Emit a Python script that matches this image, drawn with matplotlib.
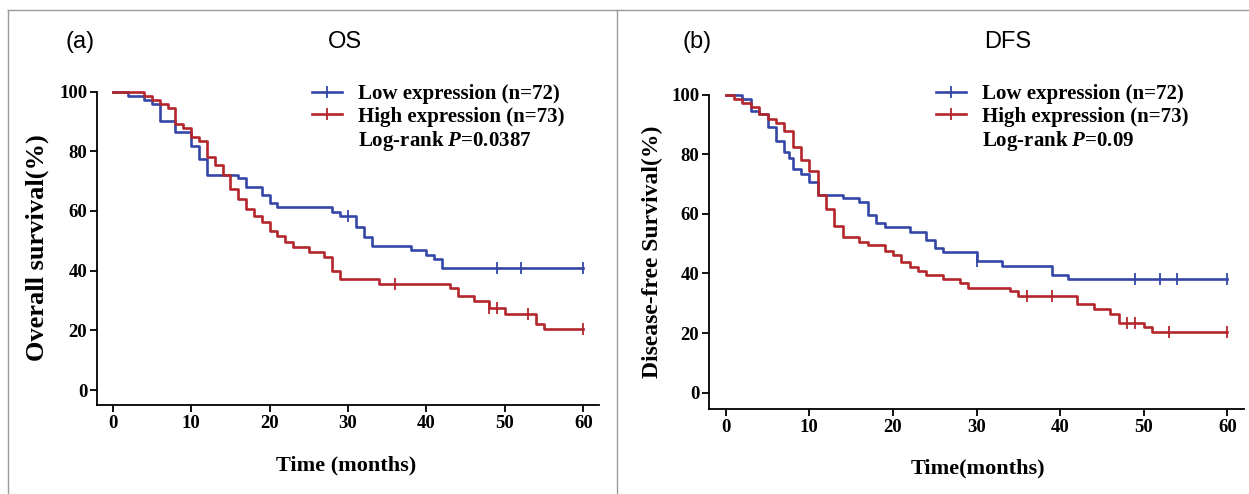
import matplotlib
matplotlib.use('Agg')
import numpy as np
import matplotlib.pyplot as plt
from matplotlib.lines import Line2D

plt.rcParams['font.family'] = 'Liberation Serif'
plt.rcParams['mathtext.fontset'] = 'custom'
plt.rcParams['mathtext.rm'] = 'Liberation Serif:bold'
plt.rcParams['mathtext.it'] = 'Liberation Serif:italic:bold'

BLUE = '#3447a8'
RED = '#b3262c'

# OS, low expression
os_low_t = [0, 2, 4, 5, 6, 8, 10, 11, 12, 16, 17, 19, 20, 21, 28, 29, 31, 32, 33, 38, 40, 41, 42, 60]
os_low_s = [100, 98.6, 97.3, 95.8, 90.2, 86.3, 81.9, 77.4, 72.0, 70.9, 68.2, 65.3, 62.6, 61.2,
            59.6, 58.4, 54.5, 51.2, 48.3, 46.9, 45.2, 43.9, 40.9, 40.9]
os_low_cens = [30, 49, 52, 60]
# OS, high expression
os_high_t = [0, 4, 5, 6, 7, 8, 9, 10, 11, 12, 13, 14, 15, 16, 17, 18, 19, 20, 21, 22, 23, 25, 27,
             28, 29, 34, 43, 44, 46, 48, 50, 54, 55, 60]
os_high_s = [100, 98.6, 97.3, 95.9, 94.5, 89.0, 87.7, 84.9, 83.6, 78.1, 75.3, 71.9, 67.3, 64.0,
             60.6, 58.4, 56.2, 53.4, 51.7, 49.7, 47.8, 46.1, 44.5, 40.0, 37.2, 35.7, 34.1, 31.6,
             29.9, 27.4, 25.5, 22.1, 20.4, 20.4]
os_high_cens = [36, 48, 49, 53, 60]

# DFS, low expression
dfs_low_t = [0, 2, 3, 4, 5, 6, 7, 7.6, 8, 9, 10, 11, 14, 16, 17, 18, 19, 22, 24, 25, 26, 30, 33,
             39, 41, 60]
dfs_low_s = [100, 98.6, 94.7, 93.6, 89.1, 84.6, 80.9, 78.8, 75.1, 73.4, 70.6, 66.2, 65.4, 63.9,
             59.8, 56.9, 55.7, 53.8, 51.3, 48.5, 47.1, 44.1, 42.6, 39.6, 38.2, 38.2]
dfs_low_cens = [30, 49, 52, 54, 60]
# DFS, high expression
dfs_high_t = [0, 1, 2, 3, 4, 5, 6, 7, 8, 9, 10, 11, 12, 13, 14, 16, 17, 19, 20, 21, 22, 23, 24,
              26, 28, 29, 34, 35, 42, 44, 46, 47, 50, 51, 60]
dfs_high_s = [100, 98.6, 97.3, 95.9, 93.6, 91.9, 90.4, 88.0, 82.4, 78.2, 74.3, 66.2, 61.7, 56.1,
              52.2, 50.5, 49.4, 47.7, 46.3, 43.8, 42.3, 41.0, 39.6, 38.2, 36.7, 35.2, 34.0, 32.6,
              29.6, 28.1, 26.4, 23.3, 22.2, 20.4, 20.4]
dfs_high_cens = [36, 39, 48, 49, 53, 60]

legend_labels = ['Low expression (n=72)', 'High expression (n=73)']
pvals = ['Log-rank $P$=0.0387', 'Log-rank $P$=0.09']
titles = ['OS', 'DFS']
tags = ['(a)', '(b)']
ylabels = ['Overall survival(%)', 'Disease-free Survival(%)']
xlabels = ['Time (months)', 'Time(months)']

W, H = 1249, 494
fig = plt.figure(figsize=(W / 100, H / 100), dpi=100)

# panel frames
gray = '#9a9a9a'
fig.add_artist(Line2D([8 / W, 8 / W], [0, 1 - 10 / H], color=gray, lw=1))
fig.add_artist(Line2D([8 / W, 1], [1 - 10 / H, 1 - 10 / H], color=gray, lw=1))
fig.add_artist(Line2D([617 / W, 617 / W], [0, 1 - 10 / H], color=gray, lw=1))


def surv_at(t, s, x):
    i = np.searchsorted(t, x, side='right') - 1
    return np.asarray(s)[i]


def km_panel(ax, curves, ylim):
    for t, s, cens, col in curves:
        ax.step(t, s, where='post', color=col, lw=1.9, clip_on=False, zorder=3)
        ax.plot(cens, surv_at(t, s, cens), linestyle='none', marker='|', ms=8, mew=1.3,
                color=col, clip_on=False, zorder=3)
    ax.set_xlim(-2, 62)
    ax.set_ylim(*ylim)
    ax.set_xticks(range(0, 61, 10))
    ax.set_yticks(range(0, 101, 20))
    for side in ['top', 'right']:
        ax.spines[side].set_visible(False)
    for side in ['left', 'bottom']:
        ax.spines[side].set_linewidth(1.3)
    ax.tick_params(direction='out', length=5, width=1.3, labelsize=13.5, pad=2)
    for lab in ax.get_xticklabels() + ax.get_yticklabels():
        lab.set_fontweight('bold')


axes_pos = [[97 / W, 1 - 405 / H, 502 / W, 313.4 / H],
            [709 / W, 1 - 409 / H, 535 / W, 314.2 / H]]
ylims = [(-5, 100), (-5.5, 100)]
data = [
    [(os_low_t, os_low_s, os_low_cens, BLUE), (os_high_t, os_high_s, os_high_cens, RED)],
    [(dfs_low_t, dfs_low_s, dfs_low_cens, BLUE), (dfs_high_t, dfs_high_s, dfs_high_cens, RED)],
]
leg_anchor = [(312, 84), (936, 84)]
tag_x = [80, 697]
title_x = [345, 1008]
ylab_pos = [(37, 248), (652, 252)]
ylab_size = [19, 17]
xlab_pos = [(346, 465), (978, 468)]

for k in range(2):
    ax = fig.add_axes(axes_pos[k])
    km_panel(ax, data[k], ylims[k])
    ax.set_xlabel(xlabels[k], fontsize=16, fontweight='bold', va='center')
    ax.set_ylabel(ylabels[k], fontsize=ylab_size[k], fontweight='bold', va='center')
    ax.xaxis.set_label_coords(xlab_pos[k][0] / W, 1 - xlab_pos[k][1] / H,
                              transform=fig.transFigure)
    ax.yaxis.set_label_coords(ylab_pos[k][0] / W, 1 - ylab_pos[k][1] / H,
                              transform=fig.transFigure)
    handles = [Line2D([], [], color=BLUE, lw=1.9, marker='|', ms=8, mew=1.3),
               Line2D([], [], color=RED, lw=1.9, marker='|', ms=8, mew=1.3),
               Line2D([], [], linestyle='none')]
    ax.legend(handles, legend_labels + [pvals[k]], loc='upper left',
              bbox_to_anchor=(leg_anchor[k][0] / W, 1 - leg_anchor[k][1] / H),
              bbox_transform=fig.transFigure, frameon=False,
              prop={'size': 15, 'weight': 'bold'}, handlelength=1.45,
              handletextpad=0.77, labelspacing=0.12, borderpad=0, borderaxespad=0)
    fig.text(tag_x[k] / W, 1 - 42 / H, tags[k], family='Liberation Sans', fontsize=17,
             ha='center', va='center')
    fig.text(title_x[k] / W, 1 - 42 / H, titles[k], family='Liberation Sans', fontsize=17,
             ha='center', va='center')

fig.savefig('out.png', dpi=100)
